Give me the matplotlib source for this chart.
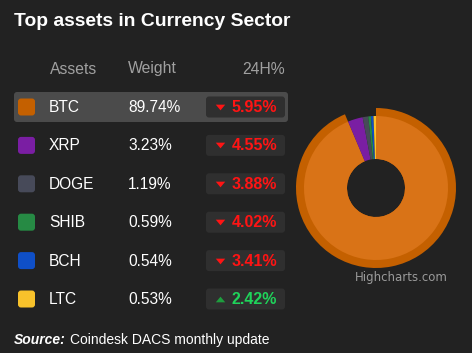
import matplotlib
matplotlib.use("Agg")
import matplotlib.pyplot as plt
from matplotlib.patches import FancyBboxPatch

assets = ["BTC", "XRP", "DOGE", "SHIB", "BCH", "LTC"]
weights = [89.74, 3.23, 1.19, 0.59, 0.54, 0.53]
changes = [-5.95, -4.55, -3.88, -4.02, -3.41, 2.42]
colors = ["#c46000", "#7a1ea3", "#474a59", "#268a44", "#0f4fc7", "#f8c22b"]
title = "Top assets in Currency Sector"
headers = ["Assets", "Weight", "24H%"]
source_label = "Source:"
source_text = "Coindesk DACS monthly update"

BG = "#222222"
W, H = 472, 353
fig = plt.figure(figsize=(W / 100, H / 100), dpi=100, facecolor=BG)
ax = fig.add_axes([0, 0, 1, 1])
ax.set_xlim(0, W)
ax.set_ylim(H, 0)
ax.axis("off")
ax.set_facecolor(BG)

FONT = ["Liberation Sans", "DejaVu Sans"]
def px(v):
    return v * 0.72

ax.text(14, 22, title, color="white", fontsize=px(19.3), fontweight="bold",
        family=FONT, va="center", ha="left")

hdr_x = [50, 128, 242]
for x, h in zip(hdr_x, headers):
    ax.text(x, 69, h, color="#a0a0a0", fontsize=px(15.8), family=FONT,
            va="center", ha="left")

up_marker = [(-1, -0.6), (1, -0.6), (0, 0.6)]
down_marker = [(-1, 0.6), (1, 0.6), (0, -0.6)]

row_y0, row_dy = 107, 38.4
for i, (a, w, c, col) in enumerate(zip(assets, weights, changes, colors)):
    y = row_y0 + i * row_dy
    if i == 0:
        ax.add_patch(FancyBboxPatch((14, y - 15), 274, 30,
                                    boxstyle="round,pad=0,rounding_size=3",
                                    fc="#4b4b4b", ec="none"))
    ax.add_patch(FancyBboxPatch((18, y - 8.5), 17, 17,
                                boxstyle="round,pad=0,rounding_size=3",
                                fc=col, ec="none"))
    ax.text(49, y + 0.5, a, color="white", fontsize=px(15.5), family=FONT,
            va="center", ha="left")
    ax.text(128, y + 0.5, f"{w:.2f}%", color="white", fontsize=px(15.5),
            family=FONT, va="center", ha="left")
    ax.add_patch(FancyBboxPatch((206, y - 10.5), 79, 21,
                                boxstyle="round,pad=0,rounding_size=3",
                                fc="#2f2f2f", ec="none"))
    up = c >= 0
    tcol = "#1fd35a" if up else "#ff1414"
    tri = "#1e9e3e" if up else "#ff1414"
    ax.plot([220], [y], marker=up_marker if up else down_marker, color=tri,
            ms=6.8, mew=0)
    ax.text(232, y + 0.5, f"{abs(c):.2f}%", color=tcol, fontsize=px(16),
            fontweight="bold", family=FONT, va="center", ha="left")

t1 = ax.text(14, 340, source_label, color="white", fontsize=px(13.9),
             fontweight="bold", style="italic", family=FONT, va="center", ha="left")
fig.canvas.draw()
bb = t1.get_window_extent()
x_end = ax.transData.inverted().transform((bb.x1, bb.y0))[0]
ax.text(x_end + 4, 340, source_text, color="white", fontsize=px(13.9),
        family=FONT, va="center", ha="left")

ax.text(355, 278, "Highcharts.com", color="#9a9a9a", fontsize=px(11.8),
        family=["DejaVu Sans"], va="center", ha="left")

# Pie
cx, cy, R = 376, 188, 80
pax = fig.add_axes([(cx - R) / W, (H - cy - R) / H, 2 * R / W, 2 * R / H])
pax.set_aspect("equal")
pax.axis("off")
r_slice = 72 / R
r_hole = 29 / R
halo_cols = [colors[0]] + ["none"] * (len(weights) - 1)
pax.pie(weights, colors=halo_cols, radius=1.0, startangle=90, counterclock=False,
        wedgeprops=dict(width=1.0 - r_hole, edgecolor="none"))
slice_cols = ["#d97317"] + colors[1:]
pax.pie(weights, colors=slice_cols, radius=r_slice, startangle=90, counterclock=False,
        wedgeprops=dict(width=r_slice - r_hole, edgecolor="none"))
pax.set_xlim(-1, 1)
pax.set_ylim(-1, 1)

fig.savefig("out.png", dpi=100, facecolor=BG)
